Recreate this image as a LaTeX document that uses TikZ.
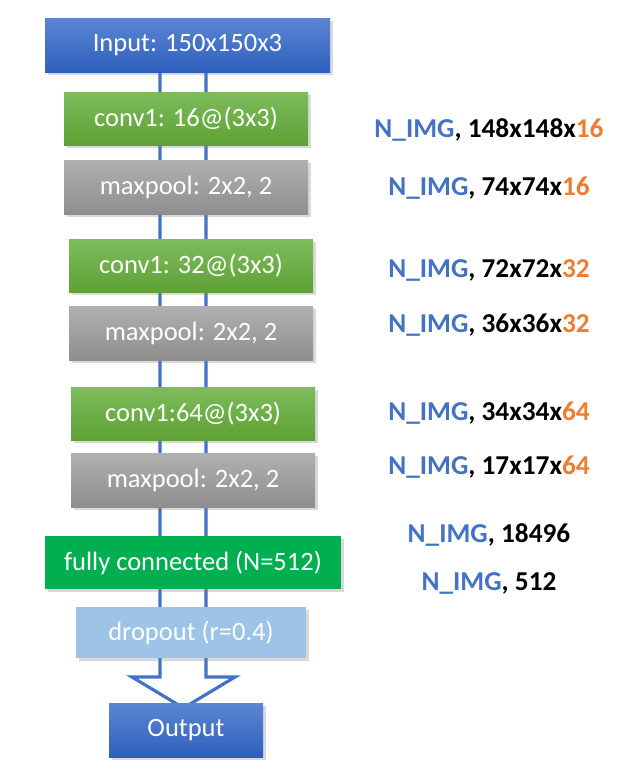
\documentclass[tikz,border=0pt]{standalone}
\usepackage{fontspec}
\setmainfont{Carlito}
\usetikzlibrary{shadows}
\definecolor{accblue}{HTML}{4472C4}
\definecolor{accorange}{HTML}{ED7D31}
\definecolor{bluetop}{HTML}{5B86D3}
\definecolor{bluebot}{HTML}{2F5FBE}
\definecolor{greentop}{HTML}{7DBC5C}
\definecolor{greenbot}{HTML}{5EA134}
\definecolor{greytop}{HTML}{B0B0B0}
\definecolor{greybot}{HTML}{8E8E8E}
\definecolor{fcgreen}{HTML}{00B050}
\definecolor{droplight}{HTML}{9DC3E6}
\newcommand{\nimg}{\textcolor{accblue}{N\_IMG}}

\begin{document}
\begin{tikzpicture}[x=1pt, y=-1pt, layer/.style={inner sep=0pt, text=white, font=\fontsize{26.5}{30}\selectfont, drop shadow={shadow xshift=2.5pt, shadow yshift=-2.5pt, opacity=0.3}}, inbox/.style={layer, top color=bluetop, bottom color=bluebot}, convbox/.style={layer, top color=greentop, bottom color=greenbot, minimum width=244pt, minimum height=53pt}, poolbox/.style={layer, top color=greytop, bottom color=greybot, minimum width=244pt, minimum height=54pt}, dims/.style={font=\bfseries\fontsize{27.3}{30}\selectfont}, hollow/.style={draw=accblue, line width=3.2pt, line join=miter}]
\useasboundingbox (0,0) rectangle (628,780);
% hollow flow arrow behind the layers
\coordinate (shaftL) at (160,60);
\coordinate (shaftR) at (206,60);
\coordinate (tip) at (183.5,708);
\draw[hollow] (shaftL) -- (160,677) -- (132,677) -- (tip) -- (235,677) -- (206,677) -- (shaftR);
% layers
\node[inbox, minimum width=285pt, minimum height=54pt] (input) at (187.5,45) {Input: 150x150x3};
\node[convbox] (conv16) at (186,118.5) {conv1: 16@(3x3)};
\node[poolbox] (pool16) at (186,187) {maxpool: 2x2, 2};
\node[convbox] (conv32) at (191,266) {conv1: 32@(3x3)};
\node[poolbox] (pool32) at (191,333) {maxpool: 2x2, 2};
\node[convbox] (conv64) at (193,413.5) {conv1:64@(3x3)};
\node[poolbox] (pool64) at (193,480) {maxpool: 2x2, 2};
\node[layer, fill=fcgreen, minimum width=296pt, minimum height=53pt] (fc) at (193,562.5) {fully connected (N=512)};
\node[layer, fill=droplight, minimum width=230pt, minimum height=51pt] (drop) at (191,632.5) {dropout (r=0.4)};
\node[inbox, minimum width=154pt, minimum height=54pt] (output) at (186,730) {Output};
% tensor shapes
\node[dims] (s16) at (489,130) {\nimg, 148x148x\textcolor{accorange}{16}};
\node[dims] (p16) at (489,188) {\nimg, 74x74x\textcolor{accorange}{16}};
\node[dims] (s32) at (489,270) {\nimg, 72x72x\textcolor{accorange}{32}};
\node[dims] (p32) at (489,325) {\nimg, 36x36x\textcolor{accorange}{32}};
\node[dims] (s64) at (489,413) {\nimg, 34x34x\textcolor{accorange}{64}};
\node[dims] (p64) at (489,467) {\nimg, 17x17x\textcolor{accorange}{64}};
\node[dims] (flat) at (489,535) {\nimg, 18496};
\node[dims] (dense) at (489,583) {\nimg, 512};
\end{tikzpicture}
\end{document}
